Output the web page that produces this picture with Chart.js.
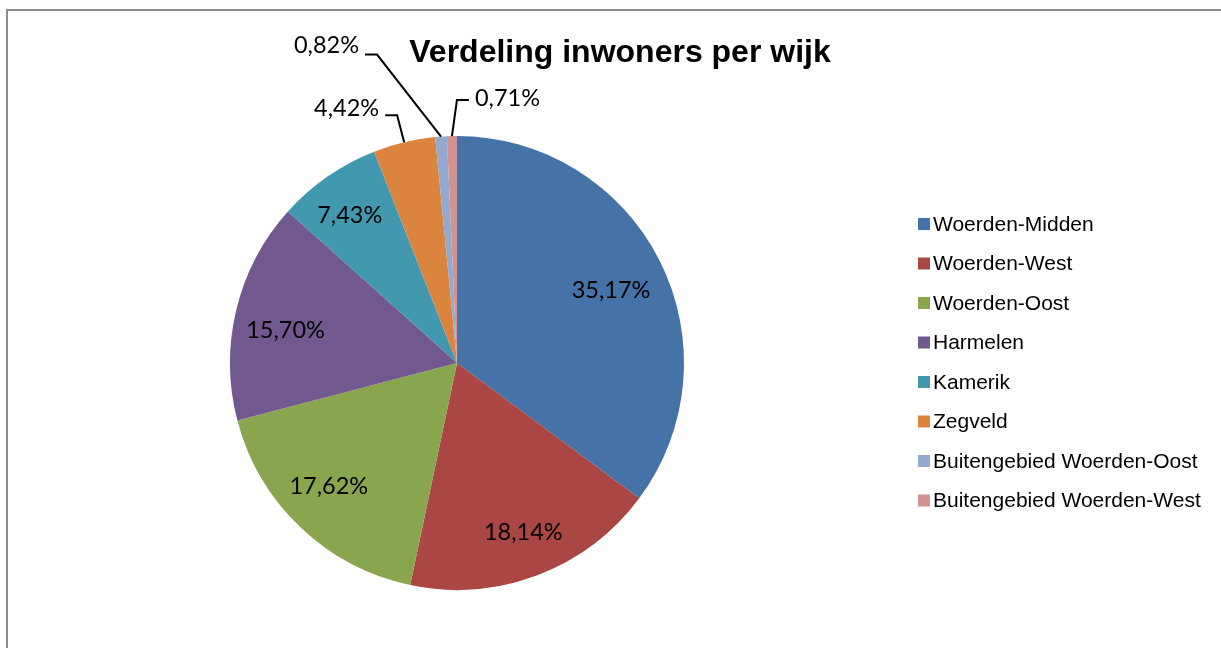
<!DOCTYPE html>
<html>
<head>
<meta charset="utf-8">
<script src="https://cdn.jsdelivr.net/npm/chart.js@4/dist/chart.umd.min.js"></script>
<style>
  html, body { margin: 0; padding: 0; background: #ffffff; }
  #wrap { width: 1221px; height: 648px; position: relative; }
</style>
</head>
<body>
<div id="wrap"><canvas id="c" width="1221" height="648"></canvas></div>
<script>
// ---- data ----
const categories = [
  "Woerden-Midden",
  "Woerden-West",
  "Woerden-Oost",
  "Harmelen",
  "Kamerik",
  "Zegveld",
  "Buitengebied Woerden-Oost",
  "Buitengebied Woerden-West"
];
const shares = [35.17, 18.14, 17.62, 15.70, 7.43, 4.42, 0.82, 0.71];
const chartTitle = "Verdeling inwoners per wijk";

// ---- styles ----
const sliceColors = ["#4572A7", "#AA4643", "#89A54E", "#71588F", "#4198AF", "#DB843D", "#93A9CF", "#D19392"];
const labelFont = "23.5px Lato";
const legendFont = "21px 'Liberation Sans', Arial, sans-serif";
const titleFont = "bold 32px 'Liberation Sans', Arial, sans-serif";

// label placement inside slices: radius fraction and angle nudge (degrees)
const insideLayout = {
  0: { f: 0.753, da: 1.0 },
  1: { f: 0.795, da: -0.8 },
  2: { f: 0.78, da: 2.8 },
  3: { f: 0.77, da: -2.4 },
  4: { f: 0.81, da: -0.9 }
};
// leader-line layout for small slices (offsets relative to slice edge point)
const leaderLayout = {
  5: { dx: -7, dy: -27, side: -1, textDy: -8 },
  6: { dx: -64, dy: -82, side: -1, textDy: -11 },
  7: { dx: 5, dy: -36, side: 1, textDy: -3 }
};

function fmt(v) { return v.toFixed(2).replace('.', ',') + '%'; }

const decorPlugin = {
  id: 'decor',
  beforeDraw(chart) {
    const ctx = chart.ctx;
    ctx.save();
    ctx.fillStyle = '#ffffff';
    ctx.fillRect(0, 0, chart.width, chart.height);
    ctx.strokeStyle = '#8c8c8c';
    ctx.lineWidth = 2;
    ctx.beginPath();
    ctx.moveTo(7, chart.height + 2);
    ctx.lineTo(7, 10);
    ctx.lineTo(chart.width + 2, 10);
    ctx.stroke();
    // title
    ctx.fillStyle = '#000000';
    ctx.font = titleFont;
    ctx.textAlign = 'center';
    ctx.textBaseline = 'alphabetic';
    ctx.fillText(chartTitle, 620, 62);
    ctx.restore();
  },
  afterDatasetsDraw(chart) {
    const ctx = chart.ctx;
    const meta = chart.getDatasetMeta(0);
    ctx.save();
    ctx.font = labelFont;
    ctx.fillStyle = '#000000';
    meta.data.forEach((arc, i) => {
      const p = arc.getProps(['x', 'y', 'startAngle', 'endAngle', 'outerRadius'], true);
      const mid = (p.startAngle + p.endAngle) / 2;
      const txt = fmt(shares[i]);
      const lay = leaderLayout[i];
      if (!lay) {
        const il = insideLayout[i] || { f: 0.79, da: 0 };
        const a = mid + il.da * Math.PI / 180;
        const r = p.outerRadius * il.f;
        ctx.textAlign = 'center';
        ctx.textBaseline = 'alphabetic';
        ctx.fillText(txt, p.x + Math.cos(a) * r, p.y + Math.sin(a) * r + 9);
      } else {
        const ex = p.x + Math.cos(mid) * p.outerRadius;
        const ey = p.y + Math.sin(mid) * p.outerRadius;
        const bx = ex + lay.dx, by = ey + lay.dy;
        const hx = bx + lay.side * 12;
        ctx.strokeStyle = '#000000';
        ctx.lineWidth = 2;
        ctx.beginPath();
        ctx.moveTo(ex, ey);
        ctx.lineTo(bx, by);
        ctx.lineTo(hx, by);
        ctx.stroke();
        ctx.textAlign = lay.side < 0 ? 'right' : 'left';
        ctx.textBaseline = 'alphabetic';
        ctx.fillText(txt, hx + lay.side * 6, by + lay.textDy + 9);
      }
    });
    ctx.restore();
  },
  afterDraw(chart) {
    const ctx = chart.ctx;
    ctx.save();
    ctx.font = legendFont;
    ctx.textAlign = 'left';
    ctx.textBaseline = 'middle';
    categories.forEach((name, i) => {
      const cy = 224 + i * 39.5;
      ctx.fillStyle = sliceColors[i];
      ctx.fillRect(918, cy - 6, 12, 12);
      ctx.fillStyle = '#000000';
      ctx.fillText(name, 933, cy + 1);
    });
    ctx.restore();
  }
};

new Chart(document.getElementById('c'), {
  type: 'pie',
  data: {
    labels: categories,
    datasets: [{
      data: shares,
      backgroundColor: sliceColors,
      borderWidth: 0
    }]
  },
  options: {
    responsive: false,
    animation: false,
    devicePixelRatio: 1,
    layout: { padding: { top: 136, bottom: 58, left: 10, right: 317 } },
    plugins: {
      legend: { display: false },
      title: { display: false },
      tooltip: { enabled: false }
    }
  },
  plugins: [decorPlugin]
});
</script>
</body>
</html>
